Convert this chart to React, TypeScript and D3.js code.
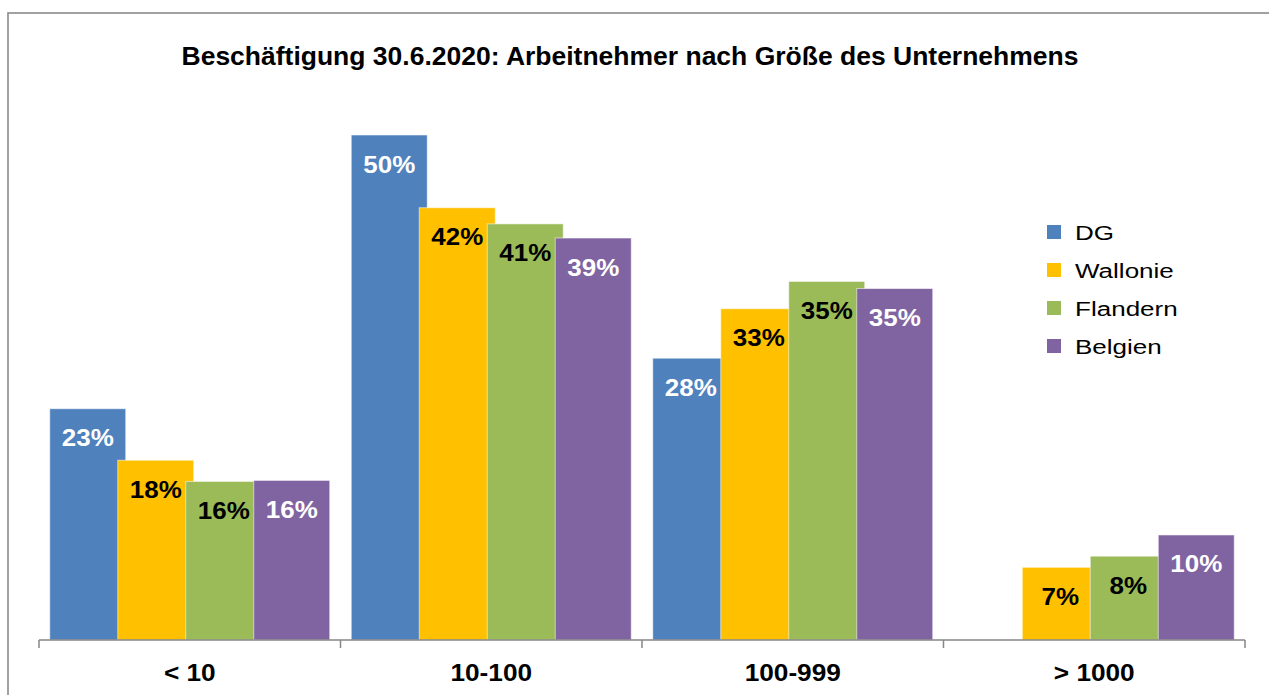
import React from "react";
import * as d3 from "d3";

const categories = ["< 10", "10-100", "100-999", "> 1000"];
const seriesNames = ["DG", "Wallonie", "Flandern", "Belgien"];
const seriesColors = ["#4F81BD", "#FFC000", "#9BBB59", "#8064A2"];
const labelColors = ["#FFFFFF", "#000000", "#000000", "#FFFFFF"];
const dgValues = [22.9, 50.0, 27.9, 0];
const walloniaValues = [17.8, 42.8, 32.8, 7.2];
const flandernValues = [15.7, 41.2, 35.5, 8.3];
const belgienValues = [15.8, 39.8, 34.8, 10.4];
const dgLabels = ["23%", "50%", "28%", ""];
const walloniaLabels = ["18%", "42%", "33%", "7%"];
const flandernLabels = ["16%", "41%", "35%", "8%"];
const belgienLabels = ["16%", "39%", "35%", "10%"];
const title = "Beschäftigung 30.6.2020: Arbeitnehmer nach Größe des Unternehmens";

const seriesValues = [dgValues, walloniaValues, flandernValues, belgienValues];
const seriesLabels = [dgLabels, walloniaLabels, flandernLabels, belgienLabels];

const W = 1269;
const H = 695;
const FONT = "'Liberation Sans', Arial, sans-serif";

export default function App() {
  const x = d3.scaleBand<string>().domain(categories).range([39, 1245]).paddingInner(0).paddingOuter(0);
  const y = d3.scaleLinear().domain([0, 50]).range([640, 135]);
  const band = x.bandwidth();
  const overlap = 0.105;
  const gapRatio = 0.283;
  const barW = band / (1 + 3 * (1 - overlap) + gapRatio);
  const stepW = barW * (1 - overlap);
  const groupPad = (band - (barW + 3 * stepW)) / 2;
  const inner = d3.scaleLinear().domain([0, 3]).range([groupPad, groupPad + 3 * stepW]);

  const ticks = [...categories.map((c) => x(c) as number), 1245];

  return (
    <div style={{ position: "fixed", left: 0, top: 0, width: W, height: H, background: "#fff" }}>
      <svg width={W} height={H} style={{ display: "block" }}>
        <rect x={0} y={0} width={W} height={H} fill="#fff" />
        <rect x={8} y={13} width={W + 20} height={H + 20} fill="#fff" stroke="#8a8a8a" strokeWidth={1.6} />
        <text
          transform={`translate(630,65) scale(1.06,1)`}
          textAnchor="middle"
          fontFamily={FONT}
          fontWeight="bold"
          fontSize={25}
          fill="#000"
        >
          {title}
        </text>

        {seriesValues.map((vals, si) => (
          <g key={seriesNames[si]}>
            {vals.map((v, ci) =>
              v > 0 ? (
                <rect
                  key={ci}
                  x={(x(categories[ci]) as number) + inner(si)}
                  y={y(v)}
                  width={barW}
                  height={y(0) - y(v)}
                  fill={seriesColors[si]}
                  stroke="#ffffff"
                  strokeOpacity={0.55}
                  strokeWidth={1}
                />
              ) : null
            )}
          </g>
        ))}

        {seriesValues.map((vals, si) => (
          <g key={"l" + seriesNames[si]}>
            {vals.map((v, ci) =>
              v > 0 && seriesLabels[si][ci] ? (
                <text
                  key={ci}
                  transform={`translate(${(x(categories[ci]) as number) + inner(si) + barW / 2},${y(v) + 37.5}) scale(1.06,1)`}
                  textAnchor="middle"
                  fontFamily={FONT}
                  fontWeight="bold"
                  fontSize={24.5}
                  fill={labelColors[si]}
                >
                  {seriesLabels[si][ci]}
                </text>
              ) : null
            )}
          </g>
        ))}

        <line x1={39} x2={1245} y1={640} y2={640} stroke="#868686" strokeWidth={1.5} />
        {ticks.map((t, i) => (
          <line key={i} x1={t} x2={t} y1={640} y2={648} stroke="#868686" strokeWidth={1.5} />
        ))}
        {categories.map((c) => (
          <text
            key={c}
            transform={`translate(${(x(c) as number) + band / 2},681) scale(1.07,1)`}
            textAnchor="middle"
            fontFamily={FONT}
            fontWeight="bold"
            fontSize={24.5}
            fill="#000"
          >
            {c}
          </text>
        ))}

        {seriesNames.map((n, i) => (
          <g key={n} transform={`translate(1047,${225 + i * 38})`}>
            <rect x={0} y={0} width={14} height={14} fill={seriesColors[i]} />
            <text
              transform={`translate(28,15) scale(1.24,1)`}
              fontFamily={FONT}
              fontSize={21}
              fill="#000"
            >
              {n}
            </text>
          </g>
        ))}
      </svg>
    </div>
  );
}
